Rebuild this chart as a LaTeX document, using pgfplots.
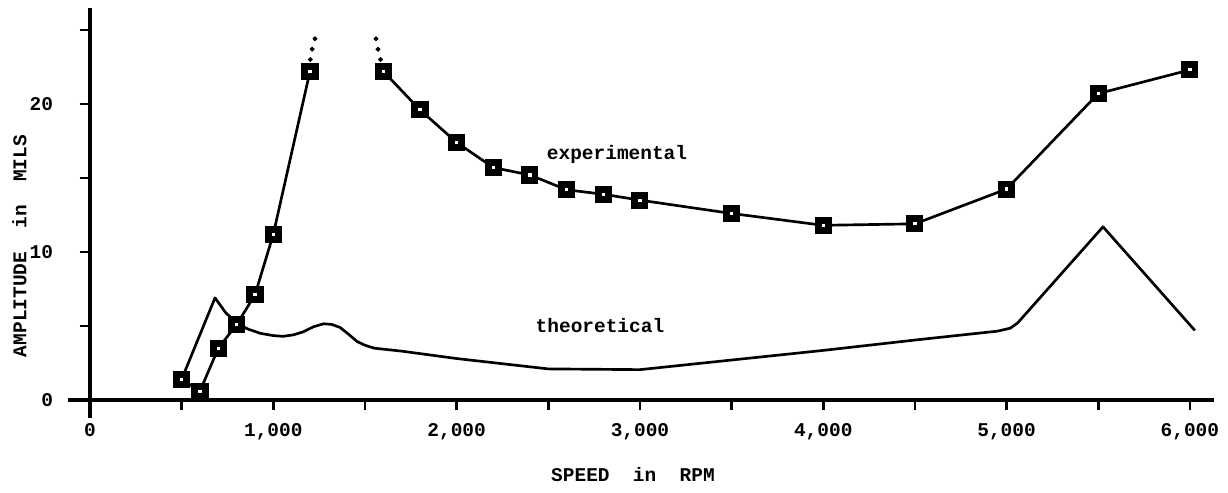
\documentclass[border=0pt]{standalone}
\usepackage{fontspec}
\setmainfont{Liberation Mono}
\usepackage{pgfplots}
\pgfplotsset{compat=1.18}
\newcommand{\lf}{\fontsize{7.3}{8}\selectfont\bfseries}
\begin{document}
\begin{tikzpicture}
\path[use as bounding box] (-33.75pt,-34.875pt) rectangle (426.75pt,150pt);
\begin{axis}[
  at={(0,0)}, anchor=south west,
  scale only axis, width=421.4pt, height=147.1pt,
  xmin=0, xmax=6130, ymin=0, ymax=26.5,
  axis lines=left,
  axis line style={-, line width=1.4pt},
  clip=false,
  xtick={0,1000,...,6000},
  xticklabels={0,{1,000},{2,000},{3,000},{4,000},{5,000},{6,000}},
  minor xtick={500,1500,...,5500},
  ytick={0,10,20}, minor ytick={5,15,25},
  tick align=outside,
  major tick length=3.75pt, minor tick length=3.75pt,
  tick style={black, line width=1pt},
  tick label style={font=\lf},
  xticklabel style={yshift=-1.6pt},
  yticklabel style={xshift=-6.6pt},
  /pgf/number format/assume math mode=true,
]
% theoretical
\addplot[black, line width=1pt, line join=round, mark=none] coordinates {
(500,1.4) (682,6.9) (740,5.9) (800,5.2) (860,4.8) (930,4.5) (1000,4.35)
(1053,4.3) (1110,4.4) (1162,4.6) (1220,4.95) (1275,5.15) (1320,5.1)
(1364,4.9) (1410,4.45) (1457,3.95) (1500,3.7) (1550,3.5) (1700,3.3)
(2000,2.8) (2500,2.1) (3000,2.05) (3500,2.7) (4000,3.35) (4500,4.05)
(4950,4.65) (5020,4.85) (5060,5.2) (5526,11.7) (6027,4.7)
};
% experimental, lower branch
\addplot[black, line width=1pt, mark=square*, mark size=1.9pt,
  mark options={fill=white, line width=2.6pt, solid}] coordinates {
(500,1.4) (600,0.6) (700,3.5) (800,5.1) (900,7.1) (1000,11.2) (1200,22.2)
};
% experimental, upper branch
\addplot[black, line width=1pt, mark=square*, mark size=1.9pt,
  mark options={fill=white, line width=2.6pt, solid}] coordinates {
(1600,22.2) (1800,19.6) (2000,17.4) (2200,15.7) (2400,15.2) (2600,14.2)
(2800,13.9) (3000,13.5) (3500,12.6) (4000,11.8) (4500,11.9) (5000,14.25)
(5500,20.7) (6000,22.3)
};
% dotted continuations
\addplot[only marks, black, mark=*, mark size=0.7pt] coordinates {
(1202,23.0) (1212,23.7) (1227,24.4)
};
\addplot[only marks, black, mark=*, mark size=0.7pt] coordinates {
(1560,24.4) (1571,23.7) (1585,23.0)
};
\draw[line width=1.4pt] (axis cs:-120,0) -- (axis cs:0,0);
\draw[line width=1.4pt] (axis cs:0,-1.2) -- (axis cs:0,0);
\node[font=\lf] at (axis cs:2875,16.6) {experimental};
\node[font=\lf] at (axis cs:2782,5.0) {theoretical};
\node[font=\lf] at (axis cs:2962,-5.07) {SPEED\ \ in\ \ RPM};
\node[font=\lf, rotate=90] at (axis cs:-385,10.4) {AMPLITUDE\ \ in\ \ MILS};
\end{axis}
\end{tikzpicture}
\end{document}
